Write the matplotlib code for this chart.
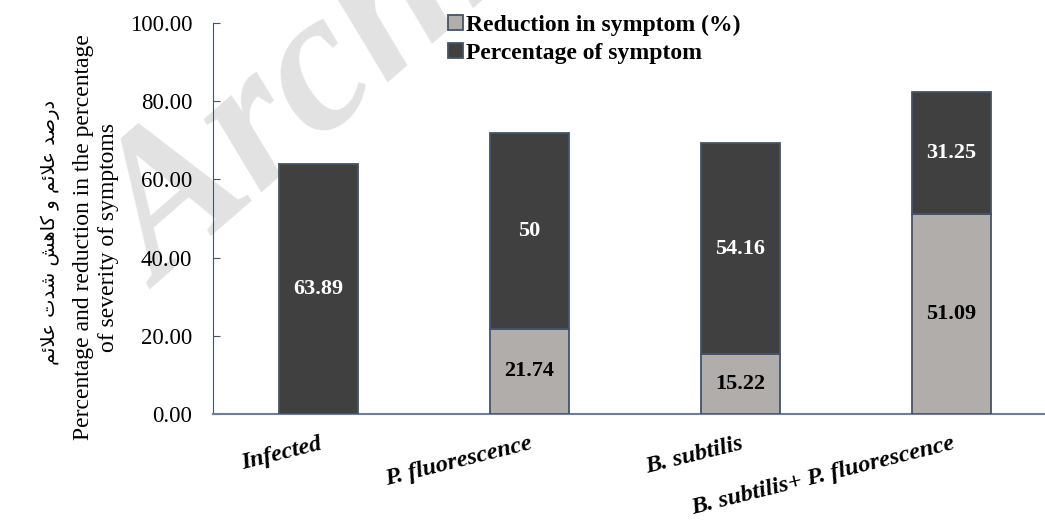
import matplotlib as mpl
mpl.use('Agg')
import matplotlib.pyplot as plt
import matplotlib.transforms as mtransforms
import numpy as np

# data
categories = ['Infected', 'P. fluorescence', 'B. subtilis', 'B. subtilis+ P. fluorescence']
reduction = [0, 21.74, 15.22, 51.09]
percentage = [63.89, 50, 54.16, 31.25]
reduction_labels = ['', '21.74', '15.22', '51.09']
percentage_labels = ['63.89', '50', '54.16', '31.25']
yticks = [0, 20, 40, 60, 80, 100]

plt.rcParams['font.family'] = ['Liberation Serif', 'DejaVu Sans']

fig = plt.figure(figsize=(10.45, 5.24), dpi=100)
ax = fig.add_axes([213/1045, 110/524, 844/1045, 391/524])
ax.set_zorder(1)

# watermark (behind the chart)
fig.text(160/1045, 1 - 290/524, 'Archive of SID', fontsize=145, fontweight='bold', style='italic',
         color='#e2e2e2', rotation=41, ha='left', va='baseline', rotation_mode='anchor', zorder=0)

x = np.arange(len(categories))
edge = '#44546a'
ax.bar(x, reduction, width=0.37, color='#b0adab', edgecolor=edge, linewidth=1.3,
       label='Reduction in symptom (%)', zorder=3)
ax.bar(x, percentage, width=0.37, bottom=reduction, color='#404040', edgecolor=edge,
       linewidth=1.3, label='Percentage of symptom', zorder=3)

for i in range(len(x)):
    if reduction_labels[i]:
        ax.text(x[i], reduction[i] / 2, reduction_labels[i], ha='center', va='center',
                fontsize=16, fontweight='bold', color='black', zorder=4)
    ax.text(x[i], reduction[i] + percentage[i] / 2, percentage_labels[i], ha='center',
            va='center', fontsize=16, fontweight='bold', color='white', zorder=4)

ax.set_xlim(-0.5, 3.5)
ax.set_ylim(0, 100)
ax.set_yticks(yticks)
ax.set_yticklabels(['%.2f' % v for v in yticks], fontsize=16.5)
ax.tick_params(axis='y', direction='in', length=5, color=edge, pad=15)
ax.set_xticks(x)
ax.set_xticklabels([])
ax.tick_params(axis='x', length=0)

# rotated category labels, right end at the bar centre
base = mtransforms.blended_transform_factory(ax.transData, ax.transAxes)
lab_tr = mtransforms.offset_copy(base, fig=fig, x=0, y=-14, units='points')
for i, c in enumerate(categories):
    ax.text(x[i], 0, c, rotation=14, rotation_mode='anchor', ha='right', va='top',
            fontsize=17.5, fontweight='bold', style='italic', transform=lab_tr,
            clip_on=False)

for s in ['top', 'right']:
    ax.spines[s].set_visible(False)
ax.spines['left'].set_color(edge)
ax.spines['bottom'].set_color('#6f7f99')
ax.spines['bottom'].set_linewidth(1.5)
ax.patch.set_alpha(0)

# y label: persian line (pre-shaped, visual order) + english
w_alaem = '\uFEE2\uFE8B\uFEFC\uFECB'
w_shedat = '\uFE95\uFEAA\uFEB7'
w_kahesh = '\uFEB6\uFEEB\uFE8E\uFB90'
w_va = '\uFEED'
w_darsad = '\uFEAA\uFEBB\uFEAD\uFEA9'
persian = ' '.join([w_alaem, w_shedat, w_kahesh, w_va, w_alaem, w_darsad])
fig.text(50/1045, 1 - 232/524, persian, rotation=90, ha='center', va='center',
         fontsize=14, family=['DejaVu Sans'])
fig.text(96/1045, 1 - 237/524, 'Percentage and reduction in the percentage\nof severity of symptoms',
         rotation=90, ha='center', va='center', fontsize=17, multialignment='center',
         linespacing=1.2)

ax.legend(loc='upper left', bbox_to_anchor=(439/1045, 1 - 5/524), bbox_transform=fig.transFigure,
          frameon=False, prop={'weight': 'bold', 'size': 17}, handlelength=0.6,
          handleheight=0.6, handletextpad=0.15, labelspacing=0.3, borderaxespad=0)

fig.savefig('out.png', dpi=100)
